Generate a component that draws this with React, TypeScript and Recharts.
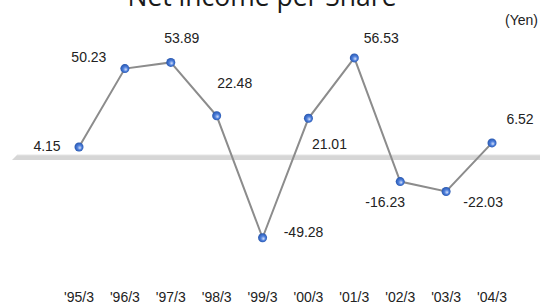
import React from "react"
import { LineChart, Line, XAxis, YAxis, ReferenceLine, LabelList } from "recharts"

const periods = ["'95/3", "'96/3", "'97/3", "'98/3", "'99/3", "'00/3", "'01/3", "'02/3", "'03/3", "'04/3"]
const netIncomePerShare = [4.15, 50.23, 53.89, 22.48, -49.28, 21.01, 56.53, -16.23, -22.03, 6.52]

// where each value label sits relative to its dot (text centre)
const labelOffsets = [
  [-32, -1],
  [-36, -12],
  [11, -24],
  [18, -33],
  [41, -6],
  [21, 26],
  [27, -20],
  [-15, 20],
  [37, 11],
  [28, -24],
]

const data = periods.map((period, i) => ({ period, value: netIncomePerShare[i] }))

const font = "'Liberation Sans', Arial, sans-serif"

const renderLabel = (props: any) => {
  const { x, y, index, value } = props
  const [dx, dy] = labelOffsets[index] || [0, -12]
  return (
    <text
      x={x + dx}
      y={y + dy + 5}
      textAnchor="middle"
      fontSize={14}
      fontFamily={font}
      fill="#222"
    >
      {value.toFixed(2)}
    </text>
  )
}

const renderDot = (props: any) => {
  const { cx, cy, index } = props
  return <circle key={index} cx={cx} cy={cy} r={4.5} fill="url(#ballGrad)" />
}

// grey floor band at zero, running past the plot on both sides
const Floor = (props: any) => {
  const { x1, x2, y1 } = props
  const left = x1 - 67
  const right = x2 + 48
  const top = y1 + 1
  const bottom = y1 + 6
  return (
    <g>
      <polygon points={`${left + 5},${top} ${right},${top} ${right},${bottom} ${left},${bottom}`} fill="#d6d6d6" />
      <line x1={left + 5} x2={right} y1={top} y2={top} stroke="#e4e4e4" strokeWidth={1} />
    </g>
  )
}

export default function App() {
  return (
    <div style={{ position: "absolute", left: 0, top: 0, width: 540, height: 305, background: "#fff" }}>
      <LineChart width={540} height={305} data={data} margin={{ top: 35, right: 48, bottom: 0, left: 79 }}>
        <defs>
          <radialGradient id="ballGrad" cx="0.5" cy="0.5" r="0.55" fx="0.62" fy="0.62">
            <stop offset="0%" stopColor="#d6e2fa" />
            <stop offset="45%" stopColor="#4f80dc" />
            <stop offset="100%" stopColor="#1f4ea6" />
          </radialGradient>
        </defs>
        <XAxis
          dataKey="period"
          axisLine={false}
          tickLine={false}
          height={49}
          tickMargin={30}
          interval={0}
          tick={{ fontSize: 14, fontFamily: font, fill: "#222" }}
        />
        <YAxis hide domain={[-60, 70]} />
        <ReferenceLine y={0} shape={Floor} ifOverflow="visible" />
        <Line
          type="linear"
          dataKey="value"
          stroke="#8c8c8c"
          strokeWidth={2}
          dot={renderDot}
          activeDot={false}
          isAnimationActive={false}
        >
          <LabelList dataKey="value" content={renderLabel} />
        </Line>
      </LineChart>
      <svg width={540} height={305} style={{ position: "absolute", left: 0, top: 0, pointerEvents: "none" }}>
        <text x={262} y={6} textAnchor="middle" fontSize={26.5} fontFamily="'Open Sans', sans-serif" fill="#1a1a1a">
          Net income per Share
        </text>
        <text x={538} y={25} textAnchor="end" fontSize={14} fontFamily={font} fill="#222">
          (Yen)
        </text>
      </svg>
    </div>
  )
}
